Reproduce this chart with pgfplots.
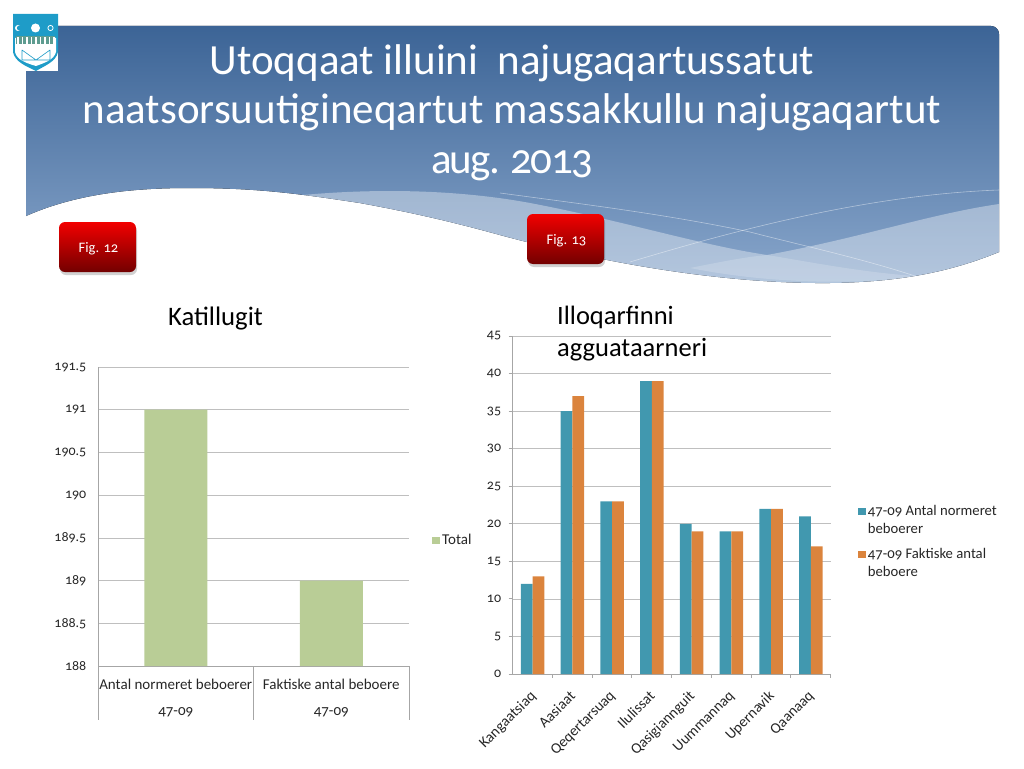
\documentclass[border=0pt]{standalone}
\usepackage{pgfplots}
\pgfplotsset{compat=1.18}
\usepackage{fontspec}
\setmainfont[Numbers=OldStyle]{Carlito}
\newfontfamily\oldnums[Numbers=OldStyle]{Carlito}
\newcommand{\ot}[1]{\mbox{\oldnums #1}}
\definecolor{grid}{HTML}{8C8C8C}
\definecolor{axisg}{HTML}{A6A6A6}
\definecolor{txt}{HTML}{262626}
\definecolor{bargreen}{HTML}{B9CD96}
\definecolor{barblue}{HTML}{4198AF}
\definecolor{barorange}{HTML}{DB843D}
\definecolor{btop}{HTML}{3C6496}
\definecolor{bmid}{HTML}{7C9DC6}
\definecolor{logob}{HTML}{1E9CC8}
\definecolor{logog}{HTML}{5E9C90}
\begin{document}
\begin{tikzpicture}
\path (0pt,0pt) rectangle (1024pt,-768pt);
\begin{scope}[x=1pt,y=-1pt]
 % banner
 \fill[top color=btop,bottom color=bmid!90!white]
  (26,216) .. controls (80,192) and (140,188) .. (190,188)
  .. controls (260,188) and (300,194) .. (360,203)
  .. controls (420,214) and (460,224) .. (500,235)
  .. controls (600,262) and (720,284) .. (830,283)
  .. controls (900,282) and (950,272) .. (999,252)
  -- (999,34) arc (0:-90:8) -- (26,26) -- cycle;
 % pale layers
 \fill[white,opacity=.36]
  (303,195) .. controls (380,188) and (460,190) .. (530,203)
  .. controls (620,220) and (700,245) .. (767,255)
  .. controls (860,238) and (930,214) .. (999,204)
  -- (999,252) .. controls (950,272) and (900,282) .. (830,283)
  .. controls (720,284) and (600,262) .. (500,235)
  .. controls (460,224) and (420,214) .. (360,203)
  .. controls (340,200) and (320,197) .. (303,195) -- cycle;
 \fill[white,opacity=.18]
  (690,268) .. controls (720,262) and (745,257) .. (767,255)
  .. controls (810,262) and (860,272) .. (915,276)
  .. controls (860,285) and (770,284) .. (690,268) -- cycle;
 \draw[white,opacity=.45,line width=.6pt]
  (500,193) .. controls (590,205) and (670,215) .. (750,232)
  .. controls (800,245) and (860,258) .. (915,276);
 \draw[white,opacity=.45,line width=.6pt]
  (630,262) .. controls (720,235) and (860,195) .. (999,190);
 % logo
 \fill[white] (13,14) rectangle (58,71);
 \fill[logob] (13,14) -- (58,14) -- (58,52) .. controls (56,62) and (44,66) .. (36,71) .. controls (26,66) and (15,62) .. (13,52) -- cycle;
 \fill[white] (15,38) -- (56,38) -- (56,52) .. controls (54,60) and (44,63) .. (36,66) .. controls (26,63) and (17,60) .. (15,52) -- cycle;
 \fill[white] (35.5,28) circle (4.5);
 \draw[white,line width=.8pt] (50.5,28) circle (2.6);
 \fill[white] (18,28) circle (3); \fill[logob] (19.5,28) circle (2.6);
 \fill[logog] (16,36) rectangle (55,44);
 \foreach \q in {18,22.5,...,54} {\fill[white] (\q-.7,37) rectangle (\q+.7,44);}
 \draw[logob,line width=.6pt] (22,50) -- (36,60) -- (50,50) (22,50) -- (22,60) -- (50,60) -- (50,50);
 % buttons
 \foreach \x/\y/\t in {59/222/{Fig. 12},527/214/{Fig. 13}} {
  \fill[black,opacity=.18,rounded corners=6pt] (\x+1,\y+3) rectangle (\x+78,\y+53);
  \shade[top color=red!95!black,bottom color=red!45!black,rounded corners=6pt] (\x,\y) rectangle (\x+77,\y+50);
  \node[text=white,font=\fontsize{14.5}{16}\selectfont] at (\x+39.5,\y+27) {\t};
 }
 % titles
 \node[text=white,align=center,font=\fontsize{43}{49.5}\selectfont] at (512,112.5) {Utoqqaat illuini\ \ najugaqartussatut\\naatsorsuutigineqartut massakkullu najugaqartut\\{\addfontfeature{LetterSpace=-4}aug. 2013}};
 \node[text=black,font=\fontsize{26.7}{32}\selectfont] at (215.5,319) {Katillugit};
 \node[text=black,align=left,anchor=north west,inner sep=0pt,font=\fontsize{26.5}{32}\selectfont] at (557,306) {Illoqarfinni\\agguataarneri};
\end{scope}
% left chart
\begin{axis}[
 at={(98pt,-666pt)},anchor=origin,scale only axis,width=311pt,height=299pt,
 xmin=0,xmax=2,ymin=188,ymax=191.5,
 axis x line=bottom,axis y line=left,axis line style={axisg,-,line width=1pt},
 ymajorgrids,xmajorgrids=false,grid style={grid,line width=.7pt},
 ytick={188,188.5,189,189.5,190,190.5,191,191.5},
 scaled y ticks=false,
 yticklabels={\ot{188},\ot{188.5},\ot{189},\ot{189.5},\ot{190},\ot{190.5},\ot{191},\ot{191.5}},
 xtick=\empty,
 y tick style={draw=none},
 y tick label style={font=\fontsize{14}{15}\selectfont,text=txt,xshift=-6pt},
 clip=false,
 legend style={at={(1.074,0.42)},anchor=west,draw=none,fill=none,font=\fontsize{15}{16}\selectfont,text=txt,inner sep=0pt},
 legend image code/.code={\fill[#1] (0pt,-3.5pt) rectangle (8pt,3.5pt);},
]
\addplot[ybar,bar width=63pt,fill=bargreen,draw=none] coordinates {(0.5,191) (1.5,189)};
\legend{Total}
\foreach \q in {0,1,2} {\edef\tmp{\noexpand\draw[axisg,line width=1pt] (axis cs:\q,188) -- ++(0pt,-54pt);}\tmp}
\node[text=txt,font=\fontsize{15}{17}\selectfont] at (axis cs:0.5,188) [yshift=-18.5pt] {Antal normeret beboerer};
\node[text=txt,font=\fontsize{15}{17}\selectfont] at (axis cs:1.5,188) [yshift=-18.5pt] {Faktiske antal beboere};
\node[text=txt,font=\fontsize{15}{17}\selectfont] at (axis cs:0.5,188) [yshift=-46.5pt] {47-09};
\node[text=txt,font=\fontsize{15}{17}\selectfont] at (axis cs:1.5,188) [yshift=-46.5pt] {47-09};
\end{axis}
% right chart
\begin{axis}[
 at={(512.7pt,-674pt)},anchor=origin,scale only axis,width=318pt,height=338pt,
 xmin=0,xmax=8,ymin=0,ymax=45,
 axis x line=bottom,axis y line=left,axis line style={axisg,-,line width=1pt},
 ymajorgrids,xmajorgrids=false,grid style={grid,line width=.7pt},
 ytick={0,5,...,45},
 yticklabels={\ot{0},\ot{5},\ot{10},\ot{15},\ot{20},\ot{25},\ot{30},\ot{35},\ot{40},\ot{45}},
 xtick={0.5,1.5,2.5,3.5,4.5,5.5,6.5,7.5},
 xticklabels={Kangaatsiaq,Aasiaat,Qeqertarsuaq,Ilulissat,Qasigiannguit,Uummannaq,Upernavik,Qaanaaq},
 x tick style={draw=none},
 x tick label style={rotate=45,anchor=north east,inner sep=1pt,xshift=-9.5pt,yshift=-4.6pt,font=\fontsize{15}{17}\selectfont,text=txt},
 y tick style={axisg,line width=1pt},major tick length=4pt,tick align=outside,
 y tick label style={font=\fontsize{14}{15}\selectfont,text=txt,xshift=-4pt},
 clip=false,
 ybar=0pt,bar width=11.7pt,
 legend style={at={(1.085,0.366)},anchor=west,draw=none,fill=none,font=\fontsize{14.7}{17.5}\selectfont,text=txt,inner sep=0pt,cells={align=left,anchor=west},row sep=-8pt},
 legend image code/.code={\fill[#1] (0pt,14pt) rectangle (8pt,21pt);},
]
\addplot[fill=barblue,draw=none] coordinates {(0.5,12) (1.5,35) (2.5,23) (3.5,39) (4.5,20) (5.5,19) (6.5,22) (7.5,21)};
\addplot[fill=barorange,draw=none] coordinates {(0.5,13) (1.5,37) (2.5,23) (3.5,39) (4.5,19) (5.5,19) (6.5,22) (7.5,17)};
\legend{{47-09 Antal normeret\\beboerer\\},{47-09 Faktiske antal\\beboere\\}}
\foreach \q in {1,...,8} {\edef\tmp{\noexpand\draw[axisg,line width=1pt] (axis cs:\q,0) -- ++(0pt,-4pt);}\tmp}
\end{axis}
\end{tikzpicture}
\end{document}
